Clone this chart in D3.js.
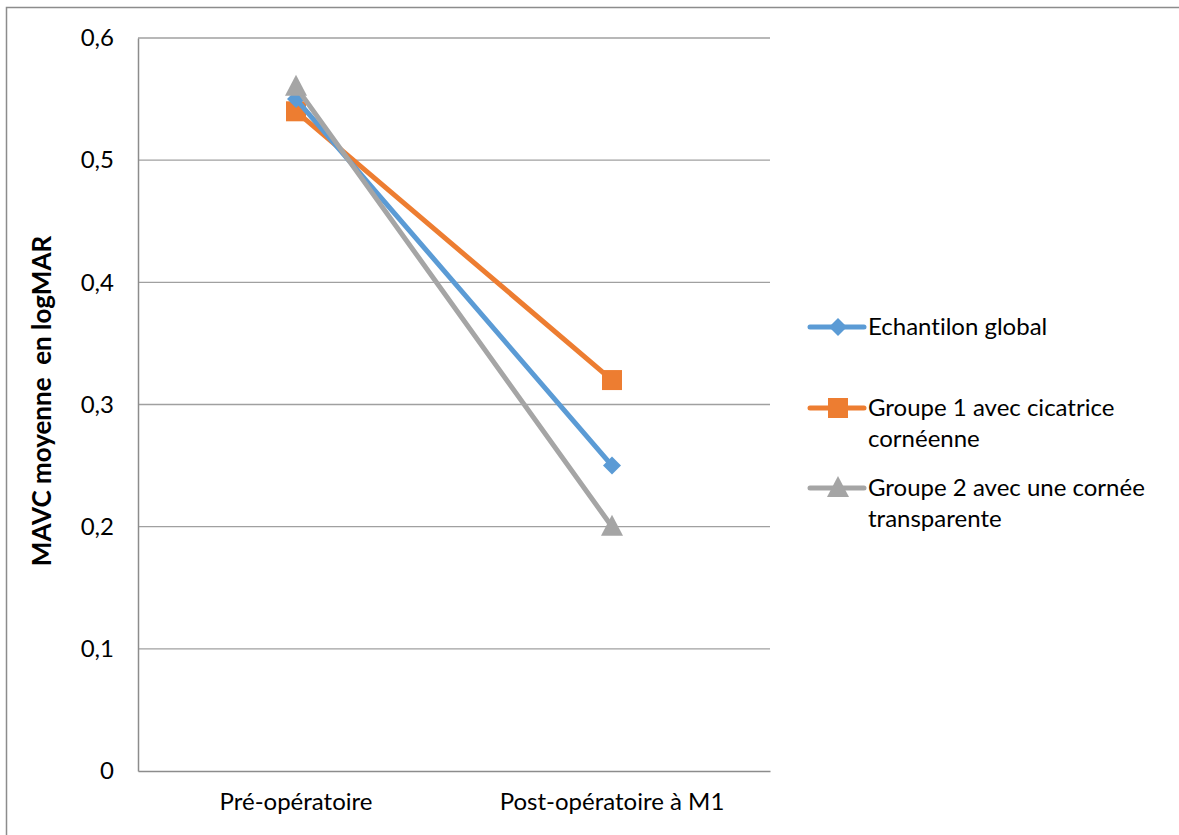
<!DOCTYPE html>
<html><head><meta charset="utf-8">
<script src="https://cdn.jsdelivr.net/npm/d3@7/dist/d3.min.js"></script>
<style>body{margin:0;background:#fff}svg text{font-family:Lato,"Open Sans",sans-serif;fill:#000;font-variant-ligatures:none}</style>
</head><body><svg id="c" width="1179" height="835"></svg>
<script>
const categories = ["Pré-opératoire", "Post-opératoire à M1"];
const seriesNames = ["Echantilon global", "Groupe 1 avec cicatrice cornéenne", "Groupe 2 avec une cornée transparente"];
const echantillon = [0.55, 0.25];
const groupe1 = [0.54, 0.32];
const groupe2 = [0.56, 0.20];
const yTicks = [0, 0.1, 0.2, 0.3, 0.4, 0.5, 0.6];
const colors = ["#5b9bd5", "#ed7d31", "#a5a5a5"];
const legendLines = [["Echantilon global"], ["Groupe 1 avec cicatrice", "cornéenne"], ["Groupe 2 avec une cornée", "transparente"]];

const FS = 24;
const svg = d3.select("#c");
svg.append("rect").attr("x",6.5).attr("y",7.5).attr("width",1200).attr("height",900)
  .attr("fill","#fff").attr("stroke","#8c8c8c").attr("stroke-width",1.5);

const L=138, R=770, T=38, B=771;
const x = d3.scaleBand().domain(categories).range([L,R]);
const y = d3.scaleLinear().domain([0,0.6]).range([B,T]);

svg.append("g").selectAll("line").data(yTicks.filter(d=>d>0)).join("line")
  .attr("x1",L).attr("x2",R).attr("y1",d=>y(d)).attr("y2",d=>y(d))
  .attr("stroke","#a0a0a0").attr("stroke-width",1.3);

const yAxis = svg.append("g").attr("transform",`translate(${L},0)`)
  .call(d3.axisLeft(y).tickValues(yTicks).tickSize(0).tickPadding(24).tickFormat(d=>String(d).replace(".",",")));
yAxis.select(".domain").attr("stroke","#8c8c8c").attr("stroke-width",1.5);
yAxis.selectAll("text").attr("font-size",FS).style("font-family","Lato,'Open Sans',sans-serif");

const xAxis = svg.append("g").attr("transform",`translate(0,${B})`)
  .call(d3.axisBottom(x).tickSize(0).tickPadding(22));
xAxis.select(".domain").attr("stroke","#8c8c8c").attr("stroke-width",1.5);
xAxis.selectAll("text").attr("font-size",FS).style("font-family","Lato,'Open Sans',sans-serif");

svg.append("text").attr("transform","translate(51,401) rotate(-90)").attr("text-anchor","middle")
  .attr("font-size",26).attr("font-weight","bold").style("white-space","pre").text("MAVC moyenne  en logMAR");

const data = [echantillon, groupe1, groupe2];
const cx = c => x(c) + x.bandwidth()/2;
const line = d3.line().x((d,i)=>cx(categories[i])).y(d=>y(d));

function marker(g, type, px, py, col){
  if(type===0) g.append("path").attr("d",`M${px},${py-9}L${px+9},${py}L${px},${py+9}L${px-9},${py}Z`).attr("fill",col);
  else if(type===1) g.append("rect").attr("x",px-10).attr("y",py-10).attr("width",20).attr("height",20).attr("fill",col);
  else g.append("path").attr("d",`M${px},${py-12}L${px+11},${py+9}L${px-11},${py+9}Z`).attr("fill",col);
}

[1,0,2].forEach(k=>{
  const g = svg.append("g");
  g.append("path").datum(data[k]).attr("d",line).attr("fill","none").attr("stroke",colors[k]).attr("stroke-width",5).attr("stroke-linecap","round");
  data[k].forEach((v,i)=>marker(g,k,cx(categories[i]),y(v),colors[k]));
});

const ly = [327, 408, 488];
legendLines.forEach((lines,k)=>{
  const g = svg.append("g");
  g.append("line").attr("x1",810).attr("x2",864).attr("y1",ly[k]).attr("y2",ly[k]).attr("stroke",colors[k]).attr("stroke-width",5).attr("stroke-linecap","round");
  marker(g,k,838,ly[k],colors[k]);
  lines.forEach((t,j)=>g.append("text").attr("x",868).attr("y",ly[k]+8+j*31).attr("font-size",FS).text(t));
});
</script></body></html>
